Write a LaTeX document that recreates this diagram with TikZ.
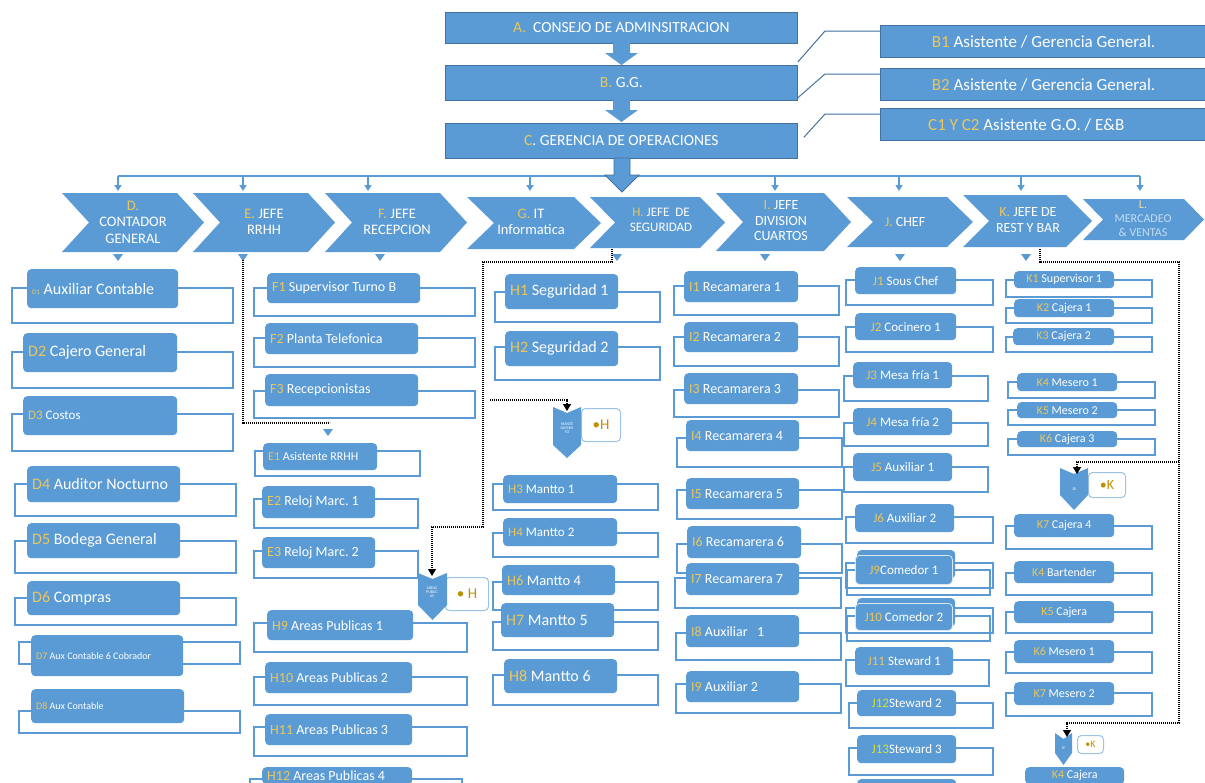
\documentclass[tikz,border=0pt]{standalone}
\usepackage{fontspec}
\setmainfont{Carlito}
\usetikzlibrary{arrows.meta}
\definecolor{boxblue}{HTML}{5B9BD5}
\definecolor{darkblue}{HTML}{41719C}
\definecolor{lgold}{HTML}{EBC65A}
\definecolor{dgold}{HTML}{C09000}
\definecolor{limey}{HTML}{D4E12A}
\definecolor{paletxt}{HTML}{C5DCF2}
\newcommand\yl[1]{\textcolor{lgold}{#1}}
\newcommand\myfz[1]{\fontsize{#1}{#1}\selectfont}
\newcommand\subbx[8]{%
 \pgfmathsetlengthmacro\mybw{#5-#3-10}%
 \pgfmathsetlengthmacro\mybh{#6-#4}%
 \node[bx,#1,text width=\mybw,minimum height=\mybh,anchor=north west,font=\myfz{#7}] (#2) at (#3,#4) {\spaceskip=\fontdimen2\font\relax #8};}
\newcommand\olbx[4]{\draw[ol] (#1,#2) rectangle (#3,#4);}
\newcommand\chevshape[5]{\fill[boxblue] (#1,#3) -- ({#2-#5},#3) -- (#2,{(#3+#4)/2}) -- ({#2-#5},#4) -- (#1,#4) -- ({#1+#5},{(#3+#4)/2}) -- cycle;}
\newcommand\dchev[5]{\fill[boxblue] (#1,#3) -- ({(#1+#2)/2},{#3+6}) -- (#2,#3) -- (#2,#4) -- ({(#1+#2)/2},#5) -- (#1,#4) -- cycle;}
\begin{document}
\frenchspacing
\begin{tikzpicture}[x=1pt,y=-1pt,
 ol/.style={draw=boxblue,line width=1.3pt},
 bx/.style={fill=boxblue,rounded corners=4pt,text=white,inner xsep=5pt,inner ysep=0pt},
 bxl/.style={align=left},
 bxc/.style={align=center},
 topbox/.style={fill=boxblue,draw=darkblue,line width=0.8pt,text=white,font=\myfz{15.5},inner sep=0pt},
 sidebox/.style={fill=boxblue,draw=darkblue,line width=1pt,text=white,font=\myfz{17},inner sep=0pt},
 diag/.style={draw=darkblue,line width=1pt},
 hl/.style={draw=boxblue,line width=1.5pt},
 chtxt/.style={text=white,align=center,inner sep=0pt,font=\fontsize{14.5}{16.5}\selectfont},
 tinytxt/.style={text=white,align=center,inner sep=0pt,font=\myfz{4}},
 wbox/.style={fill=white,draw=boxblue!60!white,rounded corners=4pt,line width=1pt,inner sep=0pt,text=dgold},
 dot/.style={draw=black,line width=1.2pt,dash pattern=on 1.3pt off 0.7pt},
 dota/.style={dot,-{Triangle[length=7pt,width=8pt]}}]
\clip (0,0) rectangle (1205,782);
\fill[white] (0,0) rectangle (1205,782);

% top chain
\node[topbox,minimum width=352,minimum height=31,anchor=north west] (A) at (445,12) {\yl{A.}\ \ CONSEJO DE ADMINSITRACION};
\node[topbox,minimum width=352,minimum height=35,anchor=north west] (B) at (445,65) {\yl{B.} G.G.};
\node[topbox,minimum width=352,minimum height=35,anchor=north west] (C) at (445,123) {\yl{C}. GERENCIA DE OPERACIONES};
\fill[boxblue] (613,43) -- (630,43) -- (630,53) -- (638,53) -- (621.5,65) -- (605,53) -- (613,53) -- cycle;
\fill[boxblue] (613,100) -- (630,100) -- (630,110) -- (638,110) -- (621.5,122) -- (605,110) -- (613,110) -- cycle;

\node[sidebox,minimum width=326,minimum height=32,anchor=north west] (B1) at (880,25) {\yl{B1} Asistente / Gerencia General.};
\node[sidebox,minimum width=326,minimum height=32,anchor=north west] (B2) at (880,68) {\yl{B2} Asistente / Gerencia General.};
\node[sidebox,minimum width=326,minimum height=32,anchor=north west] (C1) at (880,108) {};
\node[anchor=west,text=white,font=\myfz{17},inner sep=0pt] (C1t) at (928,125) {\yl{C1 Y C2} Asistente G.O. / E\&B};
\draw[diag] ([yshift=3pt]B.north east) -- (825,31) -- (880,31);
\draw[diag] ([yshift=3pt]B.south east) -- (825,74) -- (880,74);
\draw[diag] ([xshift=6pt,yshift=3.5pt]C.east) -- (825,114) -- (880,114);

% distribution line
\draw[hl] (118,176) -- (1140,176);
\foreach \x in {118,243,368,530,775,899,1021,1140}
  \draw[hl,-{Triangle[length=6pt,width=7pt]}] (\x,176) -- (\x,191);
\draw[fill=boxblue,draw=darkblue,line width=0.8pt] (614,158) -- (630,158) -- (630,175) -- (639,175) -- (622,192) -- (605,175) -- (614,175) -- cycle;

% chevrons
\chevshape{62}{204}{193}{252}{27}
\chevshape{193}{335}{193}{252}{27}
\chevshape{325}{467}{193}{252}{27}
\chevshape{467}{601}{197}{249}{27}
\chevshape{590}{725}{197}{248}{25}
\chevshape{716}{851}{193}{251}{27}
\chevshape{847}{973}{197}{247}{26}
\chevshape{963}{1092}{195}{247}{26}
\chevshape{1083}{1204}{199}{240}{20}
\node[chtxt] (Dt) at (133,222) {\yl{D.}\\CONTADOR\\GENERAL};
\node[chtxt] (Et) at (264,222) {\yl{E.} JEFE\\RRHH};
\node[chtxt] (Ft) at (397,222) {\yl{F.} JEFE\\RECEPCION};
\node[chtxt] (Gt) at (531,222) {\yl{G.} IT\\Informatica};
\node[chtxt,font=\fontsize{13}{15.5}\selectfont] (Ht) at (661,220) {\yl{H.} JEFE\ \ DE\\SEGURIDAD};
\node[chtxt,font=\fontsize{14}{15.5}\selectfont] (It) at (781,221) {\yl{I.} JEFE\\DIVISION\\CUARTOS};
\node[chtxt,font=\myfz{14}] (Jt) at (905,222) {\yl{J.} CHEF};
\node[chtxt,font=\fontsize{14}{15.5}\selectfont] (Kt) at (1028,220) {\yl{K.} JEFE DE\\REST Y BAR};
\node[chtxt,text=paletxt,font=\fontsize{12}{14}\selectfont] (Lt) at (1143,219) {\textcolor{lgold!60!white}{L.}\\MERCADEO\\\&\ VENTAS};
\foreach \x in {118,243,380,617,765,900,1026}
  \fill[boxblue] (\x-5,254) -- (\x+5,254) -- (\x,261) -- cycle;

% column D
\olbx{12}{288}{233}{323}\subbx{bxl}{d1}{27}{269}{178}{308}{16}{{\myfz{7}\yl{D1}} Auxiliar Contable}
\olbx{12}{352}{233}{388}\subbx{bxl}{d2}{23}{333}{177}{372}{16}{\yl{D2} Cajero General}
\olbx{12}{414}{233}{451}\subbx{bxl}{d3}{23}{396}{177}{435}{13}{\yl{D3} Costos}
\olbx{15}{484}{236}{516}\subbx{bxl}{d4}{27}{466}{180}{502}{16}{\yl{D4} Auditor Nocturno}
\olbx{15}{541}{236}{573}\subbx{bxl}{d5}{27}{523}{180}{558}{16}{\yl{D5} Bodega General}
\olbx{15}{598}{236}{625}\subbx{bxl}{d6}{27}{581}{180}{615}{16}{\yl{D6} Compras}
\olbx{19}{642}{240}{664}\subbx{bxl}{d7}{31}{635}{183}{676}{10}{\yl{D7} Aux Contable 6 Cobrador}
\olbx{19}{711}{240}{733}\subbx{bxl}{d8}{31}{689}{184}{723}{10}{\yl{D8} Aux Contable}

% column F / E / H9-12
\olbx{254}{288}{475}{316}\subbx{bxl}{f1}{267}{273}{420}{303}{14}{\yl{F1} Supervisor Turno B}
\olbx{254}{338}{475}{367}\subbx{bxl}{f2}{265}{323}{418}{354}{14}{\yl{F2} Planta Telefonica}
\olbx{254}{391}{475}{418}\subbx{bxl}{f3}{265}{374}{418}{406}{14}{\yl{F3} Recepcionistas}
\olbx{255}{451}{420}{476}\subbx{bxl}{e1}{263}{443}{377}{470}{12}{\yl{E1} Asistente RRHH}
\olbx{254}{499}{418}{528}\subbx{bxl}{e2}{262}{486}{375}{518}{14}{\yl{E2} Reloj Marc. 1}
\olbx{254}{551}{418}{578}\subbx{bxl}{e3}{262}{537}{375}{568}{14}{\yl{E3} Reloj Marc. 2}
\olbx{254}{623}{467}{652}\subbx{bxl}{h9}{267}{610}{413}{640}{14}{\yl{H9} Areas Publicas 1}
\olbx{254}{677}{467}{705}\subbx{bxl}{h10}{265}{662}{412}{693}{14}{\yl{H10} Areas Publicas 2}
\olbx{254}{727}{467}{756}\subbx{bxl}{h11}{265}{714}{412}{745}{14}{\yl{H11} Areas Publicas 3}
\olbx{250}{779}{462}{810}\subbx{bxl}{h12}{262}{767}{412}{784}{14}{\yl{H12} Areas Publicas 4}

% column H
\olbx{495}{292}{660}{322}\subbx{bxl}{h1}{505}{274}{618}{309}{16}{\yl{H1} Seguridad 1}
\olbx{495}{347}{660}{380}\subbx{bxl}{h2}{505}{331}{618}{366}{16}{\yl{H2} Seguridad 2}
\olbx{493}{484}{658}{510}\subbx{bxl}{h3}{503}{475}{617}{503}{13}{\yl{H3} Mantto 1}
\olbx{493}{533}{658}{557}\subbx{bxl}{h4}{503}{518}{617}{546}{13}{\yl{H4} Mantto 2}
\olbx{493}{582}{658}{610}\subbx{bxl}{h6}{502}{565}{615}{595}{14.5}{\yl{H6} Mantto 4}
\olbx{493}{622}{658}{650}\subbx{bxl}{h7}{501}{603}{614}{637}{16}{\yl{H7} Mantto 5}
\olbx{493}{675}{658}{705}\subbx{bxl}{h8}{504}{659}{617}{693}{16}{\yl{H8} Mantto 6}

% column I
\olbx{674}{286}{839}{315}\subbx{bxl}{i1}{684}{271}{798}{302}{14}{\yl{I1} Recamarera 1}
\olbx{674}{337}{839}{366}\subbx{bxl}{i2}{684}{322}{798}{352}{14}{\yl{I2} Recamarera 2}
\olbx{674}{390}{839}{417}\subbx{bxl}{i3}{684}{373}{798}{404}{14}{\yl{I3} Recamarera 3}
\olbx{677}{438}{842}{467}\subbx{bxl}{i4}{686}{420}{799}{451}{14}{\yl{I4} Recamarera 4}
\olbx{677}{490}{842}{519}\subbx{bxl}{i5}{686}{478}{799}{509}{14}{\yl{I5} Recamarera 5}
\olbx{677}{544}{842}{573}\subbx{bxl}{i6}{687}{526}{801}{558}{14}{\yl{I6} Recamarera 6}
\olbx{675}{578}{841}{608}\subbx{bxl}{i7}{686}{563}{799}{595}{14}{\yl{I7} Recamarera 7}
\olbx{676}{633}{841}{660}\subbx{bxl}{i8}{686}{615}{799}{647}{14}{\yl{I8} Auxiliar\ \ \ 1}
\olbx{676}{684}{841}{713}\subbx{bxl}{i9}{686}{671}{799}{702}{14}{\yl{I9} Auxiliar 2}

% column J
\olbx{846}{280}{993}{305}\subbx{bxc}{j1}{855}{267}{956}{294}{13}{\yl{J1} Sous Chef}
\olbx{846}{327}{993}{352}\subbx{bxc}{j2}{855}{313}{956}{340}{13}{\yl{J2} Cocinero 1}
\olbx{844}{376}{988}{401}\subbx{bxc}{j3}{853}{362}{952}{388}{13}{\yl{J3} Mesa fría 1}
\olbx{844}{423}{988}{446}\subbx{bxc}{j4}{853}{408}{952}{435}{13}{\yl{J4} Mesa fría 2}
\olbx{844}{467}{988}{492}\subbx{bxc}{j5}{853}{453}{952}{481}{13}{\yl{J5} Auxiliar 1}
\olbx{846}{517}{993}{543}\subbx{bxc}{j6}{855}{504}{954}{532}{13}{\yl{J6} Auxiliar 2}
\olbx{846}{563}{993}{588}\subbx{bxc}{j7}{857}{550}{955}{578}{13}{}
\olbx{847}{570}{990}{595}\subbx{bxc,draw=white!75!boxblue,line width=0.8pt}{j9}{855}{555}{952}{584}{13}{\yl{J9}Comedor 1}
\olbx{846}{608}{993}{633}\subbx{bxc}{j8}{857}{598}{955}{626}{13}{}
\olbx{847}{616}{990}{641}\subbx{bxc,draw=white!75!boxblue,line width=0.8pt}{j10}{855}{603}{952}{630}{13}{\yl{J10} Comedor 2}
\olbx{846}{660}{989}{686}\subbx{bxc}{j11}{855}{647}{953}{675}{13}{\yl{J11} Steward 1}
\olbx{849}{703}{993}{728}\subbx{bxc}{j12}{857}{690}{956}{716}{13}{\textcolor{limey}{J12}Steward 2}
\olbx{849}{748}{993}{775}\subbx{bxc}{j13}{857}{735}{956}{763}{13}{\textcolor{limey}{J13}Steward 3}
\subbx{bxc}{j14}{857}{779}{956}{810}{13}{}

% column K
\olbx{1006}{280}{1152}{297}\subbx{bxc}{k1}{1014}{271}{1114}{288}{12}{\yl{K1} Supervisor 1}
\olbx{1006}{308}{1152}{323}\subbx{bxc}{k2}{1014}{299}{1114}{317}{12}{\yl{K2} Cajera 1}
\olbx{1006}{337}{1152}{352}\subbx{bxc}{k3}{1013}{328}{1114}{345}{12}{\yl{K3} Cajera 2}
\olbx{1008}{382}{1155}{398}\subbx{bxc}{k4}{1017}{373}{1117}{391}{12}{\yl{K4} Mesero 1}
\olbx{1008}{410}{1155}{425}\subbx{bxc}{k5}{1017}{402}{1117}{418}{12}{\yl{K5} Mesero 2}
\olbx{1008}{439}{1155}{455}\subbx{bxc}{k6}{1017}{431}{1117}{447}{12}{\yl{K6} Cajera 3}
\olbx{1006}{526}{1152}{549}\subbx{bxc}{k7}{1014}{514}{1114}{537}{12}{\yl{K7} Cajera 4}
\olbx{1006}{573}{1152}{595}\subbx{bxc}{kb}{1014}{561}{1114}{583}{12}{\yl{K4} Bartender}
\olbx{1006}{612}{1152}{633}\subbx{bxc}{kc}{1014}{601}{1114}{623}{12}{\yl{K5} Cajera}
\olbx{1006}{652}{1152}{673}\subbx{bxc}{kd}{1014}{640}{1114}{663}{12}{\yl{K6} Mesero 1}
\olbx{1006}{693}{1152}{716}\subbx{bxc}{ke}{1014}{682}{1114}{705}{12}{\yl{K7} Mesero 2}
\subbx{bxc}{kf}{1025}{767}{1124}{784}{12}{\yl{K4} Cajera}

% icons
\node[wbox,minimum width=39,minimum height=33,anchor=north west,font=\myfz{15}] (mantB) at (581,408) {\textbullet H};
\dchev{553}{581}{407}{445}{458}
\node[tinytxt] (mantT) at (567,428) {MANTE\\NIMIEN\\TO};
\node[wbox,minimum width=43,minimum height=33,anchor=north west,font=\myfz{15}] (apB) at (445,577) {\textbullet\ H};
\dchev{418}{447}{573}{605}{620}
\node[tinytxt] (apT) at (432,592) {AREAS\\PUBLIC\\AS};
\node[wbox,minimum width=37,minimum height=25,anchor=north west,font=\myfz{14}] (jbB) at (1088,472) {\textbullet K};
\dchev{1060}{1088}{468}{495}{510}
\node[tinytxt] (jbT) at (1074,489) {JB};
\node[wbox,minimum width=26,minimum height=18,anchor=north west,font=\myfz{10}] (lyB) at (1077,735) {\textbullet K};
\dchev{1055}{1072}{733}{753}{765}
\node[tinytxt] (lyT) at (1063.5,748) {LY};

% dotted connectors
\coordinate (hsrc) at (612,249);
\coordinate (esrc) at (243,260);
\coordinate (ksrc) at (1040,249);
\coordinate (mantIn) at (567,411);
\coordinate (apIn) at (432,576);
\coordinate (jbIn) at (1077,474);
\coordinate (lyIn) at (1067,737);
\draw[dota] (hsrc) -- (612,262) -- (483,262) -- (483,527) -- (432,527) -- (apIn);
\draw[dota] (490,400) -- (567,400) -- (mantIn);
\draw[dot] (esrc) -- (243,423) -- (330,423);
\fill[boxblue] (323,429) -- (333,429) -- (328,436) -- cycle;
\draw[dota] (ksrc) -- (1040,262) -- (1179,262) -- (1179,723) -- (1067,723) -- (lyIn);
\draw[dota] (1179,462) -- (1077,462) -- (jbIn);
\end{tikzpicture}
\end{document}
